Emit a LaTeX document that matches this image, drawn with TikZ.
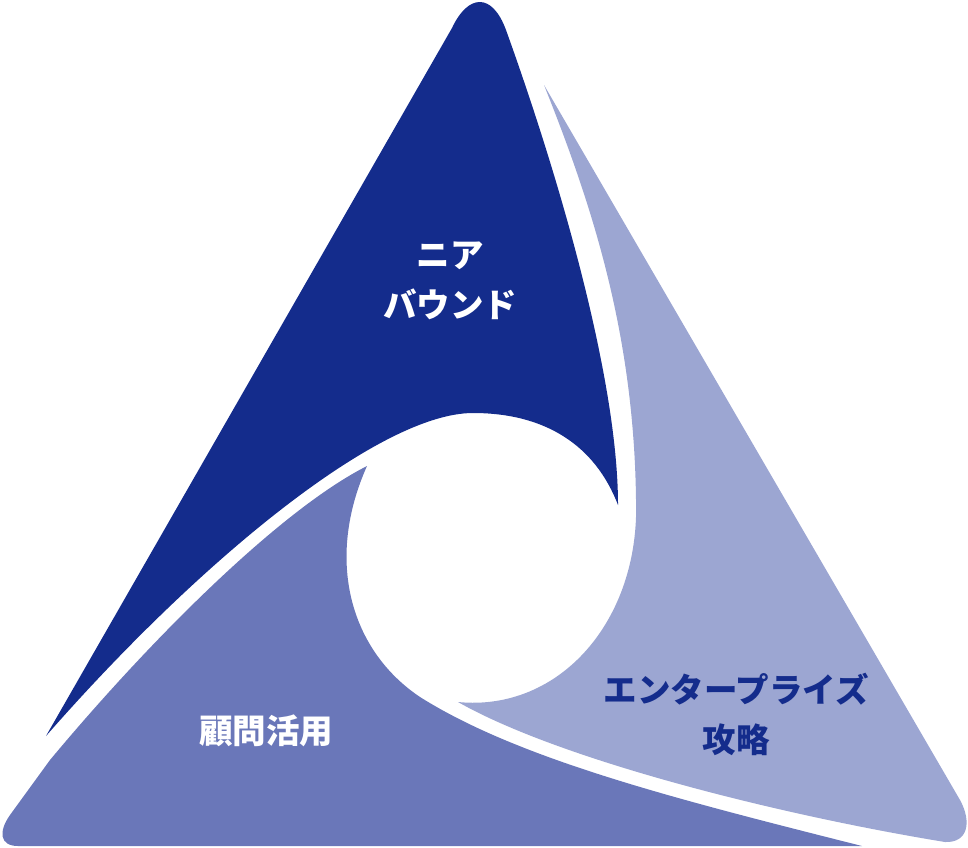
\documentclass[tikz,border=0pt]{standalone}
\usepackage{fontspec}
\newfontfamily\jpfont{Noto Sans CJK JP}
\definecolor{darkblue}{RGB}{20,44,140}
\definecolor{midblue}{RGB}{106,119,185}
\definecolor{paleblue}{RGB}{156,166,210}
\begin{document}
\begin{tikzpicture}[
            x=1pt, y=-1pt,
            label text/.style={align=center, font=\jpfont\bfseries\fontsize{33.5}{50}\selectfont},
            on dark/.style={label text, text=white},
            on pale/.style={label text, text=darkblue}
            ]
            \useasboundingbox (0,0) rectangle (968,847);
            % ニアバウンド
            \fill[darkblue] (46,736) -- (452,28) .. controls (468,-6) and (492,-8) .. (506,30)
              .. controls (560,180) and (618,380) .. (618,505)
              .. controls (595,445) and (545,413) .. (473,413)
              .. controls (380,413) and (200,560) .. (46,736) -- cycle;
            % 顧問活用
            \fill[midblue] (367,466) .. controls (280,510) and (150,640) .. (50,760)
              -- (10,815) .. controls (-2,832) and (0,846) .. (18,846) -- (862,846)
              .. controls (680,800) and (520,760) .. (420,697)
              .. controls (350,650) and (325,560) .. (367,466) -- cycle;
            % エンタープライズ攻略
            \fill[paleblue] (544,85) -- (960,800) .. controls (972,822) and (968,843) .. (945,842)
              .. controls (780,815) and (560,760) .. (458,702)
              .. controls (560,712) and (640,620) .. (636,500)
              .. controls (634,330) and (590,200) .. (544,85) -- cycle;
            \node[on dark] (near) at (450,281) {ニア\\バウンド};
            \node[on dark] (advisor) at (266,731) {顧問活用};
            \node[on pale] (enterprise) at (736,714) {エンタープライズ\\攻略};
\end{tikzpicture}
\end{document}
